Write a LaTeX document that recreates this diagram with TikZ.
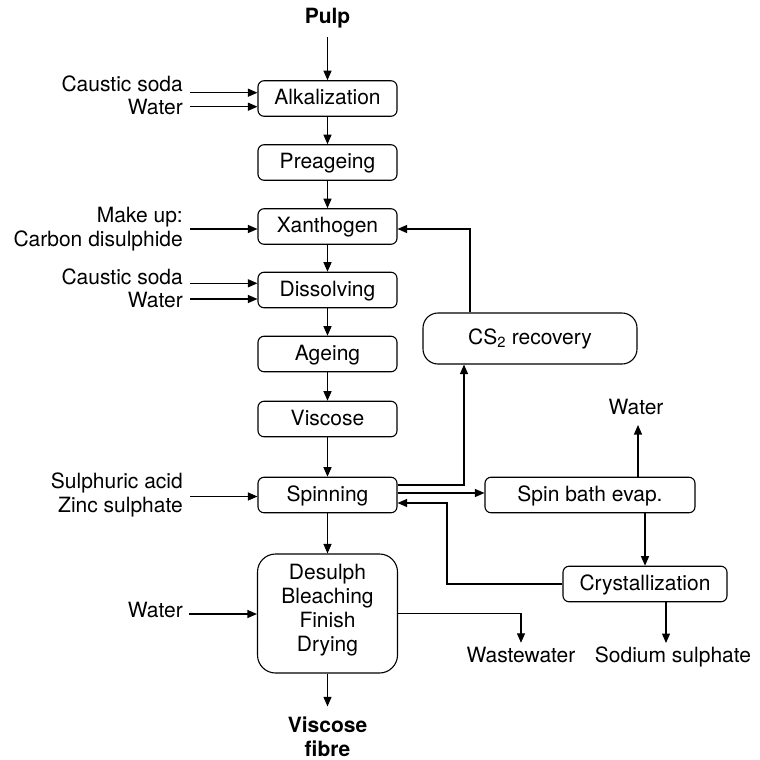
\documentclass[tikz,border=0pt]{standalone}
\usepackage{fontspec}
\setmainfont{TeX Gyre Heros}
\usetikzlibrary{arrows.meta}
\newcommand{\fsz}{\fontsize{21}{24}\selectfont}

\begin{document}
\begin{tikzpicture}[x=1pt,y=-1pt,
    frame/.style={draw,line width=1.1pt,rounded corners=6pt,minimum width=139pt,minimum height=35.5pt,inner sep=0pt,font=\fsz},
    box/.style={frame,text height=15pt,text depth=3pt},
    lbl/.style={inner sep=0pt,font=\fsz},
    arr/.style={line width=1.1pt,-{Triangle[length=9.5pt,width=8pt]}}]
    \useasboundingbox (0,0) rectangle (760,760);

    % main line
    \node (pulp) at (327.5,24) [lbl,anchor=base,font=\fsz\bfseries] {Pulp};
    \node (alk) at (327.5,98.5) [box] {Alkalization};
    \node (pre) at (327.5,162.5) [box] {Preageing};
    \node (xan) at (327.5,226.5) [box] {Xanthogen};
    \node (dis) at (327.5,290) [box] {Dissolving};
    \node (age) at (327.5,354) [box] {Ageing};
    \node (vis) at (327.5,419) [box] {Viscose};
    \node (spin) at (327.5,495) [box] {Spinning};
    \node (des) at (327.5,613.5) [frame,minimum width=140pt,minimum height=119pt,rounded corners=18pt,align=center] {Desulph\\Bleaching\\Finish\\Drying\rule[-11pt]{0pt}{0pt}};
    \node (fibre) at (327.5,736.5) [lbl,font=\fsz\bfseries,align=center] {Viscose\\fibre};

    % recovery side
    \node (cs2) at (530,338.5) [frame,minimum width=214pt,minimum height=51pt,rounded corners=15pt] {CS\textsubscript{2} recovery};
    \node (sbe) at (590,495) [box,minimum width=210pt] {Spin bath evap.};
    \node (cry) at (645,584) [box,minimum width=164pt] {Crystallization};
    \node (wtop) at (636,414) [lbl,anchor=base] {Water};
    \node (waste) at (521,662.3) [lbl,anchor=base] {Wastewater};
    \node (sod) at (673,662.3) [lbl,anchor=base] {Sodium sulphate};

    % feeds
    \node (soda1) at (183,91) [lbl,anchor=base east] {Caustic soda};
    \node (wat1) at (183,114.3) [lbl,anchor=base east] {Water};
    \node (mkup) at (183,229.5) [lbl,anchor=east,align=right] {Make up:\\Carbon disulphide};
    \node (soda2) at (183,284.3) [lbl,anchor=base east] {Caustic soda};
    \node (wat2) at (183,307.7) [lbl,anchor=base east] {Water};
    \node (acid) at (183,495) [lbl,anchor=east,align=right] {Sulphuric acid\\Zinc sulphate};
    \node (wat3) at (183,617.3) [lbl,anchor=base east] {Water};

    \coordinate (in1) at (190,92.7);
    \coordinate (in2) at (190,106.7);
    \coordinate (in3) at (190,229);
    \coordinate (in4) at (190,283.3);
    \coordinate (in5) at (190,299);
    \coordinate (in6) at (190,496.5);
    \coordinate (in7) at (189,614);
    \coordinate (fb) at (470,229);
    \coordinate (up) at (464,485);
    \coordinate (ret) at (447,503);
    \coordinate (wout) at (638,425);
    \coordinate (sodtop) at (666,643);

    \draw[arr,shorten <=8pt] (pulp.south) -- (alk.north);
    \foreach \a/\b in {alk/pre,pre/xan,xan/dis,dis/age,age/vis,vis/spin,spin/des}
        \draw[arr] (\a) -- (\b);
    \draw[arr,shorten >=10pt] (des) -- (fibre);
    \foreach \c/\n in {in1/alk,in2/alk,in3/xan,in4/dis,in5/dis,in6/spin,in7/des}
        \draw[arr] (\c) -- (\c -| \n.west);

    \draw[arr] (fb |- cs2.north) -- (fb) -- (fb -| xan.east);
    \draw[arr] (up -| spin.east) -- (up) -- (up |- cs2.south);
    \draw[arr] ([yshift=2pt]spin.east) -- ([yshift=2pt]sbe.west);
    \draw[arr] (cry.west) -| (ret) -- (ret -| spin.east);
    \draw[arr] (wout |- sbe.north) -- (wout);
    \draw[arr] (cry.north |- sbe.south) -- (cry.north);
    \draw[arr,shorten >=4pt] (des.east) -| (waste.north);
    \draw[arr] (sodtop |- cry.south) -- (sodtop);
\end{tikzpicture}
\end{document}
